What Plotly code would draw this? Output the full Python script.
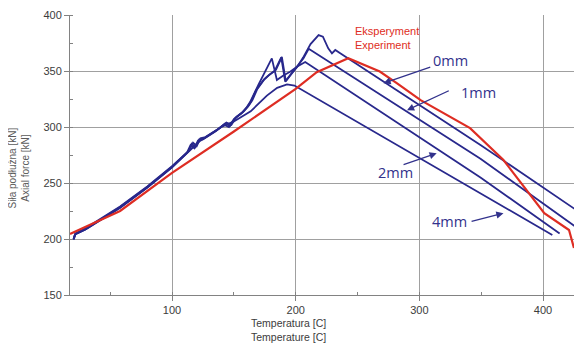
import plotly.graph_objects as go

# ---- data (temperature [C], axial force [kN]) ----
exp_T = [17.5, 58, 100, 150, 200, 217, 242.5, 268, 282, 301, 341, 368, 401, 421, 425]
exp_F = [204.5, 225, 259, 296, 334, 349, 361.5, 349.5, 339, 324, 299, 270.5, 223, 208, 192]

mm4_T = [20.3, 21.5, 30, 58, 80, 100, 122, 140, 150, 163.6, 176.7, 185, 193, 199, 407.5]
mm4_F = [199.5, 204, 208.5, 228, 246, 264, 287, 300, 305, 314, 328, 335, 338, 337, 203.6]

mm2_T = [20.3, 21.5, 30, 58, 80, 100, 112, 115, 118, 121, 125, 135, 142, 146, 150, 156, 160, 163,
         170, 175.5, 180.7, 184.8, 190, 195.5, 201, 207.7, 349.4, 413.4]
mm2_F = [199.5, 204, 208.5, 228, 246, 264, 277, 284, 281, 288, 289, 296, 302, 300, 307, 312, 317, 322,
         338, 350, 361.3, 342, 346, 349.4, 353.8, 358, 255, 205]

mm1_T = [20.5, 21.7, 30, 58, 80, 100, 113, 116, 119, 122, 126, 136, 143, 147, 151, 157, 161, 164,
         168, 174, 178, 183, 188.3, 191.5, 196, 201, 206.3, 210.5, 349.4, 430]
mm1_F = [199.8, 204.5, 209, 228.5, 246.5, 264.5, 278, 285, 282, 289, 290, 297, 303, 301, 308, 313, 318, 323,
         333, 342, 346, 350, 362.2, 340.5, 347, 353.8, 361.3, 369.8, 271.7, 208]

mm0_T = [20.7, 22, 30, 58, 80, 100, 114, 117, 120, 123, 127, 137, 144, 148, 152, 158, 162, 165,
         169, 175, 179, 184, 188.8, 192, 197, 201.5, 206, 212, 218.5, 222, 226.3, 229.3, 232, 236,
         349.4, 432]
mm0_F = [200, 205, 209.5, 229, 247, 265, 279, 286, 283, 290, 291, 298, 304, 302, 309, 314, 319, 324,
         334, 343, 347, 351, 362.5, 341, 348, 354, 362, 374, 382.1, 380.6, 370.2, 365.8, 368.75, 365.8,
         284, 222]

x_ticks = [100, 200, 300, 400]
y_ticks = [150, 200, 250, 300, 350, 400]

BLUE = "rgb(40,40,140)"
RED = "rgb(222,45,35)"
GRID = "rgb(160,160,160)"

fig = go.Figure()
for T, F in [(mm4_T, mm4_F), (mm2_T, mm2_F), (mm1_T, mm1_F), (mm0_T, mm0_F)]:
    fig.add_trace(go.Scatter(x=T, y=F, mode="lines",
                             line=dict(color=BLUE, width=1.8), showlegend=False))
fig.add_trace(go.Scatter(x=exp_T, y=exp_F, mode="lines",
                         line=dict(color=RED, width=2.2), showlegend=False))

# labels with arrows: (text, label x, label y, tip x, tip y, tail x, tail y)
lab_font = dict(family="Open Sans, Lato, sans-serif", size=14.5, color="rgb(50,50,140)")
labels = [
    ("0mm", 325, 359, 271, 339, 310, 354),
    ("1mm", 347.5, 331, 290, 315, 325, 333),
    ("2mm", 280.5, 259, 314, 276.5, 286, 266),
    ("4mm", 324, 215.5, 368, 223, 341, 215.5),
]
for txt, lx, ly, tx, ty, ax_, ay_ in labels:
    fig.add_annotation(x=lx, y=ly, text=txt, showarrow=False, font=lab_font,
                       xanchor="center", yanchor="middle")
    fig.add_annotation(x=tx, y=ty, ax=ax_, ay=ay_, axref="x", ayref="y", text="",
                       showarrow=True, arrowhead=2, arrowsize=1.1, arrowwidth=1.3,
                       arrowcolor="rgb(50,50,140)")

fig.add_annotation(x=246, y=379.5, text="Eksperyment<br>Experiment", showarrow=False,
                   xanchor="left", yanchor="middle", align="left",
                   font=dict(family="Liberation Sans, Arial, sans-serif", size=11, color=RED))

fig.add_annotation(xref="paper", yref="paper", x=-0.1, y=0.455, textangle=-90,
                   text="Siła podłużna [kN]<br>Axial force [kN]", showarrow=False,
                   xanchor="center", yanchor="middle",
                   font=dict(family="Liberation Sans, Arial, sans-serif", size=10, color="rgb(90,90,90)"))
fig.add_annotation(xref="paper", yref="paper", x=0.426, y=-0.125,
                   text="Temperatura [C]<br>Temperature [C]", showarrow=False,
                   xanchor="center", yanchor="middle",
                   font=dict(family="Liberation Sans, Arial, sans-serif", size=10.5, color="rgb(60,60,60)"))

axis_common = dict(showgrid=True, gridcolor=GRID, gridwidth=1, zeroline=False,
                   showline=True, linecolor="rgb(130,130,130)", linewidth=1,
                   ticks="outside", ticklen=5, tickcolor="rgb(130,130,130)",
                   tickfont=dict(family="Liberation Sans, Arial, sans-serif", size=11, color="rgb(60,60,60)"))
fig.update_xaxes(range=[17.5, 431.5], tickvals=x_ticks,
                 minor=dict(dtick=50, tick0=0, ticks="inside", ticklen=3, tickcolor="rgb(130,130,130)", showgrid=False),
                 **axis_common)
fig.update_yaxes(range=[150, 400], tickvals=y_ticks,
                 minor=dict(dtick=25, tick0=0, ticks="inside", ticklen=3, tickcolor="rgb(130,130,130)", showgrid=False),
                 **axis_common)

# page body has an 8px margin, so the figure is sized/offset to compensate
fig.update_layout(width=574, height=335, margin=dict(l=62, r=0, t=7, b=48),
                  paper_bgcolor="white", plot_bgcolor="white")
fig.write_html("out.html")
